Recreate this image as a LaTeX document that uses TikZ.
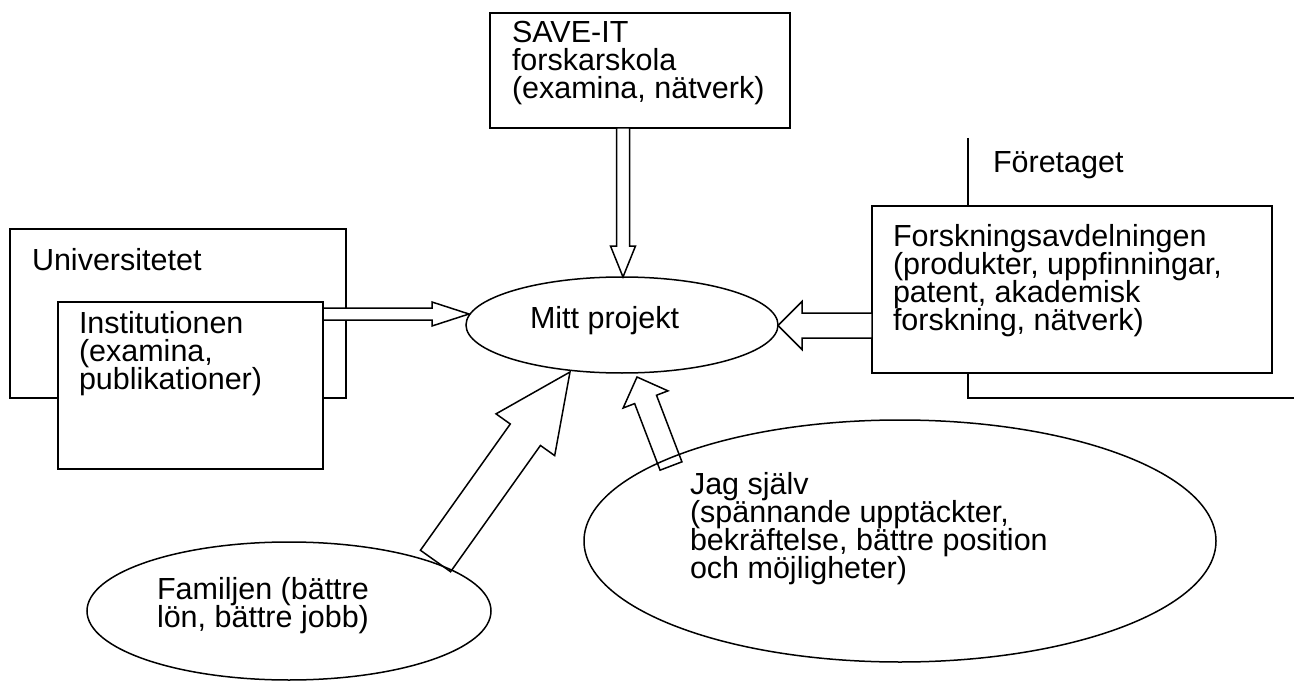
\documentclass[tikz,border=0pt]{standalone}
\usepackage{fontspec}
\setmainfont{Liberation Sans}
\usetikzlibrary{calc,shapes.geometric}
\newcommand\blockarrow[5]{%
  \coordinate (bah) at ($(#2)!#5!(#1)$);
  \draw[blk] ($(#1)!#3!90:(#2)$) -- ($(bah)!#3!90:(#2)$) -- ($(bah)!#4!90:(#2)$)
    -- (#2) -- ($(bah)!#4!-90:(#2)$) -- ($(bah)!#3!-90:(#2)$) -- ($(#1)!#3!-90:(#2)$) -- cycle;
}
\newcommand\txtfont{\fontsize{30.5}{28}\selectfont\lineskiplimit=-50pt\relax\lineskip=0pt\relax}
\newcommand\tstrut{\rule{0pt}{24pt}}
\begin{document}
\begin{tikzpicture}[x=1pt,y=-1pt,
  box/.style={draw,line width=1.8pt,fill=white,rectangle,anchor=north west,inner sep=0pt,outer sep=0pt},
  oval/.style={draw,line width=1.5pt,ellipse,inner sep=0pt,outer sep=0pt},
  txt/.style={anchor=north west,inner sep=0pt,outer sep=0pt,align=left,font=\txtfont},
  blk/.style={draw,line width=1.5pt,fill=white,line join=miter}]
\useasboundingbox (0,0) rectangle (1294,682);
\fill[white] (0,0) rectangle (1294,682);

% Företaget (open frame running off the page)
\coordinate (foretop) at (968,138);
\coordinate (forecorner) at (968,398);
\coordinate (foreright) at (1294,398);
\draw[line width=1.8pt] (foretop) -- (forecorner) -- (foreright);
\node[txt] (tfore) at (993,149) {\tstrut Företaget};

% Forskningsavdelningen
\node[box,minimum width=400,minimum height=167] (forsk) at (872,206) {};
\node[txt] (tforsk) at (893,222) {\tstrut Forskningsavdelningen\\(produkter, uppfinningar,\\patent, akademisk\\forskning, nätverk)};

% Universitetet / Institutionen
\node[box,minimum width=336,minimum height=169] (univ) at (10,229) {};
\node[txt] (tuniv) at (32,246) {\tstrut Universitetet};
\node[box,minimum width=265,minimum height=167] (inst) at (58,302) {};
\node[txt] (tinst) at (79,309) {\tstrut Institutionen\\(examina,\\publikationer)};

% SAVE-IT
\node[box,minimum width=300,minimum height=115] (save) at (490,13) {};
\node[txt] (tsave) at (512,19) {\tstrut SAVE-IT\\forskarskola\\(examina, nätverk)};

% arrows
\coordinate (a1s) at (323,314);   \coordinate (a1e) at (469,314);
\coordinate (a2s) at (623,128);   \coordinate (a2e) at (623,277);
\coordinate (a3s) at (872,325.5); \coordinate (a3e) at (778,325.5);
\coordinate (a4s) at (435.5,561); \coordinate (a4e) at (570,372);
\coordinate (a5s) at (671,466);   \coordinate (a5e) at (637,377);
\blockarrow{a1s}{a1e}{6pt}{12pt}{37pt}
\blockarrow{a2s}{a2e}{6.5pt}{12.5pt}{31pt}
\blockarrow{a3s}{a3e}{12.5pt}{24pt}{24pt}
\blockarrow{a4s}{a4e}{18.5pt}{36pt}{77pt}
\blockarrow{a5s}{a5e}{11.7pt}{24pt}{24pt}

% ellipses
\node[oval,minimum width=312,minimum height=96] (mitt) at (622,325) {};
\node[txt] (tmitt) at (530,304) {\tstrut Mitt projekt};
\node[oval,minimum width=404,minimum height=138] (fam) at (289,611) {};
\node[txt] (tfam) at (157,575) {\tstrut Familjen (bättre\\lön, bättre jobb)};
\node[oval,minimum width=632,minimum height=242] (jag) at (900,541) {};
\node[txt] (tjag) at (690,470) {\tstrut Jag själv\\(spännande upptäckter,\\bekräftelse, bättre position\\och möjligheter)};
\end{tikzpicture}
\end{document}
